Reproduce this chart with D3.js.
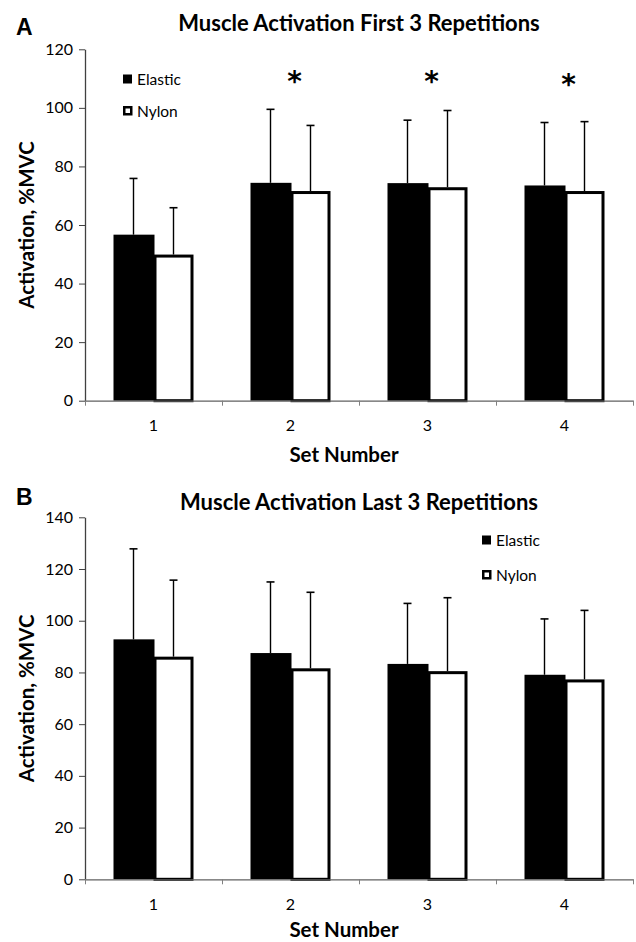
<!DOCTYPE html>
<html>
<head>
<meta charset="utf-8">
<script src="https://cdn.jsdelivr.net/npm/d3@7"></script>
<style>
  html, body { margin: 0; padding: 0; background: #fff; }
  svg { display: block; }
  text { font-family: Lato, "Open Sans", sans-serif; fill: #000; }
</style>
</head>
<body>
<svg id="chart" width="636" height="942"></svg>
<script>
// ---------- data ----------
const categories = ["1", "2", "3", "4"];
const seriesNames = ["Elastic", "Nylon"];

const firstElastic   = [56.7, 74.4, 74.3, 73.5];
const firstElasticSD = [19.2, 25.1, 21.5, 21.5];
const firstNylon     = [49.9, 71.6, 72.9, 71.6];
const firstNylonSD   = [16.0, 22.4, 26.2, 23.7];
const firstSignif    = ["", "*", "*", "*"];
const firstTicks     = [0, 20, 40, 60, 80, 100, 120];

const lastElastic    = [92.8, 87.5, 83.3, 79.1];
const lastElasticSD  = [35.0, 27.5, 23.4, 21.6];
const lastNylon      = [86.1, 81.6, 80.5, 77.3];
const lastNylonSD    = [29.6, 29.4, 28.4, 26.7];
const lastSignif     = ["", "", "", ""];
const lastTicks      = [0, 20, 40, 60, 80, 100, 120, 140];

const panelLetters = ["A", "B"];
const titles = ["Muscle Activation First 3 Repetitions", "Muscle Activation Last 3 Repetitions"];
const xTitle = "Set Number";
const yTitle = "Activation, %MVC";

// ---------- drawing ----------
const svg = d3.select("#chart");
const plotLeft = 85, plotRight = 633;

function panel(cfg) {
  const g = svg.append("g");
  const x = d3.scaleBand().domain(categories).range([plotLeft, plotRight]).padding(0);
  const xs = d3.scaleBand().domain(seriesNames).range([0, x.bandwidth()])
    .paddingInner(0).paddingOuter(0.7125);
  const y = d3.scaleLinear().domain([0, d3.max(cfg.ticks)]).range([cfg.y0, cfg.yTop]);

  const rows = categories.map((c, i) => ({
    cat: c,
    vals: [
      {s: "Elastic", v: cfg.elastic[i], sd: cfg.elasticSD[i]},
      {s: "Nylon", v: cfg.nylon[i], sd: cfg.nylonSD[i]}
    ],
    sig: cfg.sig[i]
  }));

  // error bars (drawn first so bars cover the lower part)
  const eb = g.append("g");
  rows.forEach(r => r.vals.forEach(d => {
    const cx = x(r.cat) + xs(d.s) + xs.bandwidth() / 2;
    eb.append("line").attr("x1", cx).attr("x2", cx)
      .attr("y1", y(d.v)).attr("y2", y(d.v + d.sd))
      .attr("stroke", "#000").attr("stroke-width", 1.4);
    eb.append("line").attr("x1", cx - 4).attr("x2", cx + 4)
      .attr("y1", y(d.v + d.sd)).attr("y2", y(d.v + d.sd))
      .attr("stroke", "#000").attr("stroke-width", 1.6);
  }));

  // bars
  const bars = g.append("g");
  rows.forEach(r => r.vals.forEach(d => {
    const bx = x(r.cat) + xs(d.s), bw = xs.bandwidth();
    if (d.s === "Elastic") {
      bars.append("rect").attr("x", bx).attr("y", y(d.v))
        .attr("width", bw + 1).attr("height", y(0) - y(d.v))
        .attr("fill", "#000");
    } else {
      bars.append("rect").attr("x", bx + 1.5).attr("y", y(d.v) + 1.5)
        .attr("width", bw - 3).attr("height", y(0) - y(d.v) - 1.5)
        .attr("fill", "#fff").attr("stroke", "#000").attr("stroke-width", 3);
    }
  }));

  // y axis
  const ya = g.append("g").attr("transform", `translate(${plotLeft},0)`)
    .call(d3.axisLeft(y).tickValues(cfg.ticks).tickSize(6).tickSizeOuter(0).tickPadding(6));
  ya.select(".domain").attr("stroke", "#404040").attr("stroke-width", 1.3);
  ya.selectAll(".tick line").attr("stroke", "#404040");
  ya.selectAll("text").style("font-size", "16px").style("font-family", "Lato").attr("fill", "#000");

  // x axis: boundary ticks + labels
  const xe = d3.scaleLinear().domain([0, categories.length]).range([plotLeft, plotRight]);
  const xa = g.append("g").attr("transform", `translate(0,${cfg.y0})`)
    .call(d3.axisBottom(xe).tickValues(d3.range(categories.length + 1)).tickFormat("").tickSize(5).tickSizeOuter(0));
  xa.select(".domain").attr("stroke", "#606060").attr("stroke-width", 1.3);
  xa.selectAll(".tick line").attr("stroke", "#808080");
  const xl = g.append("g").attr("transform", `translate(0,${cfg.y0})`)
    .call(d3.axisBottom(x).tickSize(0).tickPadding(19));
  xl.select(".domain").remove();
  xl.selectAll("text").style("font-size", "16px").style("font-family", "Lato").attr("fill", "#000");

  // significance markers
  rows.forEach((r, i) => {
    if (!r.sig) return;
    g.append("text").attr("x", x(r.cat) + x.bandwidth() / 2 + 4)
      .attr("y", cfg.sigY[i])
      .attr("text-anchor", "middle")
      .style("font-family", "DejaVu Sans").style("font-weight", "bold").style("font-size", "28px")
      .text(r.sig);
  });

  // legend
  seriesNames.forEach((s, i) => {
    const ly = cfg.legendY[i];
    if (s === "Elastic") {
      g.append("rect").attr("x", cfg.legendX).attr("y", ly - 4.5).attr("width", 9).attr("height", 9).attr("fill", "#000");
    } else {
      g.append("rect").attr("x", cfg.legendX + 1.25).attr("y", ly - 3.75).attr("width", 7).attr("height", 7)
        .attr("fill", "#fff").attr("stroke", "#000").attr("stroke-width", 2.5);
    }
    g.append("text").attr("x", cfg.legendX + 14).attr("y", ly + 5.5)
      .style("font-size", "15.5px").text(s);
  });

  // titles
  g.append("text").attr("x", 16).attr("y", cfg.letterY)
    .style("font-family", "Liberation Sans").style("font-weight", "bold").style("font-size", "23px")
    .text(cfg.letter);
  g.append("text").attr("x", (plotLeft + plotRight) / 2).attr("y", cfg.titleY)
    .attr("text-anchor", "middle").style("font-weight", "bold").style("font-size", "22px")
    .text(cfg.title);
  g.append("text").attr("x", 344).attr("y", cfg.y0 + cfg.xTitleOff)
    .attr("text-anchor", "middle").style("font-weight", "bold").style("font-size", "20.5px")
    .text(xTitle);
  g.append("text")
    .attr("transform", `translate(34,${(cfg.y0 + cfg.yTop) / 2}) rotate(-90)`)
    .attr("text-anchor", "middle").style("font-weight", "bold").style("font-size", "20.5px")
    .text(yTitle);
}

panel({
  letter: panelLetters[0], title: titles[0], letterY: 35, titleY: 31,
  y0: 400.7, yTop: 49.3, ticks: firstTicks, xTitleOff: 61,
  elastic: firstElastic, elasticSD: firstElasticSD, nylon: firstNylon, nylonSD: firstNylonSD,
  sig: firstSignif, sigY: [0, 91, 91, 94],
  legendX: 123, legendY: [79, 111]
});

panel({
  letter: panelLetters[1], title: titles[1], letterY: 505, titleY: 510,
  y0: 879.3, yTop: 517.3, ticks: lastTicks, xTitleOff: 57.5,
  elastic: lastElastic, elasticSD: lastElasticSD, nylon: lastNylon, nylonSD: lastNylonSD,
  sig: lastSignif, sigY: [0, 0, 0, 0],
  legendX: 482, legendY: [540, 575]
});
</script>
</body>
</html>
